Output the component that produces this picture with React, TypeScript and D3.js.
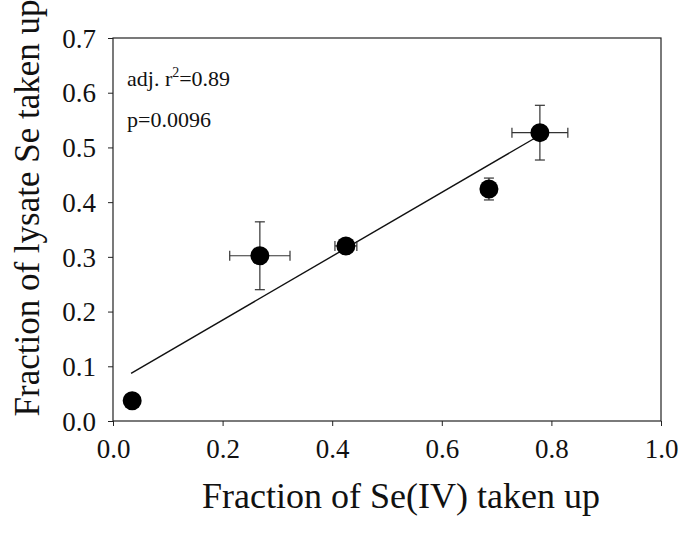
import React, { useEffect, useRef } from 'react';
import * as d3 from 'd3';

// measured points (fraction of Se(IV) taken up vs fraction of lysate Se taken up)
const xVals = [0.035, 0.268, 0.425, 0.686, 0.779];
const yVals = [0.037, 0.302, 0.320, 0.424, 0.527];
const xErr = [0, 0.055, 0.02, 0, 0.051];
const yErr = [0, 0.062, 0.009, 0.02, 0.05];

// linear fit drawn between these end points
const fitX = [0.033, 0.775];
const fitY = [0.087, 0.520];

const xTicks = [0, 0.2, 0.4, 0.6, 0.8, 1.0];
const yTicks = [0, 0.1, 0.2, 0.3, 0.4, 0.5, 0.6, 0.7];

const statLines = ['adj. r', 'p=0.0096'];

const W = 681, H = 537;
const left = 113, right = 661, top = 38, bottom = 421;

const App = () => {
    const ref = useRef<SVGSVGElement>(null);

    useEffect(() => {
        const svg = d3.select(ref.current);
        svg.selectAll('*').remove();

        const x = d3.scaleLinear().domain([0, 1]).range([left, right]);
        const y = d3.scaleLinear().domain([0, 0.7]).range([bottom, top]);
        const font = '"Liberation Serif", "Times New Roman", serif';

        // frame
        svg.append('rect')
            .attr('x', left).attr('y', top)
            .attr('width', right - left).attr('height', bottom - top)
            .attr('fill', 'none').attr('stroke', '#222').attr('stroke-width', 1.2);

        const xAxis = svg.append('g')
            .attr('transform', `translate(0,${bottom})`)
            .call(d3.axisBottom(x).tickValues(xTicks).tickSize(5).tickPadding(13).tickFormat(d3.format('.1f')));
        const yAxis = svg.append('g')
            .attr('transform', `translate(${left},0)`)
            .call(d3.axisLeft(y).tickValues(yTicks).tickSize(5).tickPadding(12).tickFormat(d3.format('.1f')));

        [xAxis, yAxis].forEach(a => {
            a.attr('font-family', font).attr('font-size', 27);
            a.select('.domain').remove();
            a.selectAll('line').attr('stroke', '#222');
            a.selectAll('text').attr('fill', '#111');
        });
        yAxis.selectAll('text').attr('dy', '0.34em');

        // fit line
        svg.append('line')
            .attr('x1', x(fitX[0])).attr('y1', y(fitY[0]))
            .attr('x2', x(fitX[1])).attr('y2', y(fitY[1]))
            .attr('stroke', '#111').attr('stroke-width', 1.4);

        const pts = xVals.map((v, i) => ({ x: v, y: yVals[i], ex: xErr[i], ey: yErr[i] }));
        const cap = 5;

        const eb = svg.append('g').attr('stroke', '#333').attr('stroke-width', 1.2);
        pts.forEach(d => {
            if (d.ex > 0) {
                eb.append('line')
                    .attr('x1', x(d.x - d.ex)).attr('x2', x(d.x + d.ex))
                    .attr('y1', y(d.y)).attr('y2', y(d.y));
                [d.x - d.ex, d.x + d.ex].forEach(v => {
                    eb.append('line')
                        .attr('x1', x(v)).attr('x2', x(v))
                        .attr('y1', y(d.y) - cap).attr('y2', y(d.y) + cap);
                });
            }
            if (d.ey > 0) {
                eb.append('line')
                    .attr('x1', x(d.x)).attr('x2', x(d.x))
                    .attr('y1', y(d.y - d.ey)).attr('y2', y(d.y + d.ey));
                [d.y - d.ey, d.y + d.ey].forEach(v => {
                    eb.append('line')
                        .attr('x1', x(d.x) - cap).attr('x2', x(d.x) + cap)
                        .attr('y1', y(v)).attr('y2', y(v));
                });
            }
        });

        svg.selectAll('.pt')
            .data(pts)
            .enter()
            .append('circle')
            .attr('class', 'pt')
            .attr('cx', d => x(d.x))
            .attr('cy', d => y(d.y))
            .attr('r', 9.5)
            .attr('fill', '#000');

        // stats text
        const t1 = svg.append('text')
            .attr('x', 127).attr('y', 86)
            .attr('font-family', font).attr('font-size', 22).attr('fill', '#111');
        t1.append('tspan').text(statLines[0]);
        t1.append('tspan').attr('dy', -9).attr('font-size', 14).text('2');
        t1.append('tspan').attr('dy', 9).text('=0.89');

        svg.append('text')
            .attr('x', 127).attr('y', 127)
            .attr('font-family', font).attr('font-size', 22).attr('fill', '#111')
            .text(statLines[1]);

        // axis titles
        svg.append('text')
            .attr('x', 401).attr('y', 508)
            .attr('text-anchor', 'middle')
            .attr('font-family', font).attr('font-size', 36).attr('fill', '#111')
            .text('Fraction of Se(IV) taken up');

        svg.append('text')
            .attr('transform', 'translate(39,208) rotate(-90)')
            .attr('text-anchor', 'middle')
            .attr('font-family', font).attr('font-size', 35).attr('fill', '#111')
            .text('Fraction of lysate Se taken up');
    }, []);

    return (
        <svg ref={ref} width={W} height={H}
            style={{ position: 'absolute', left: 0, top: 0, background: '#fff' }} />
    );
};

export default App;
